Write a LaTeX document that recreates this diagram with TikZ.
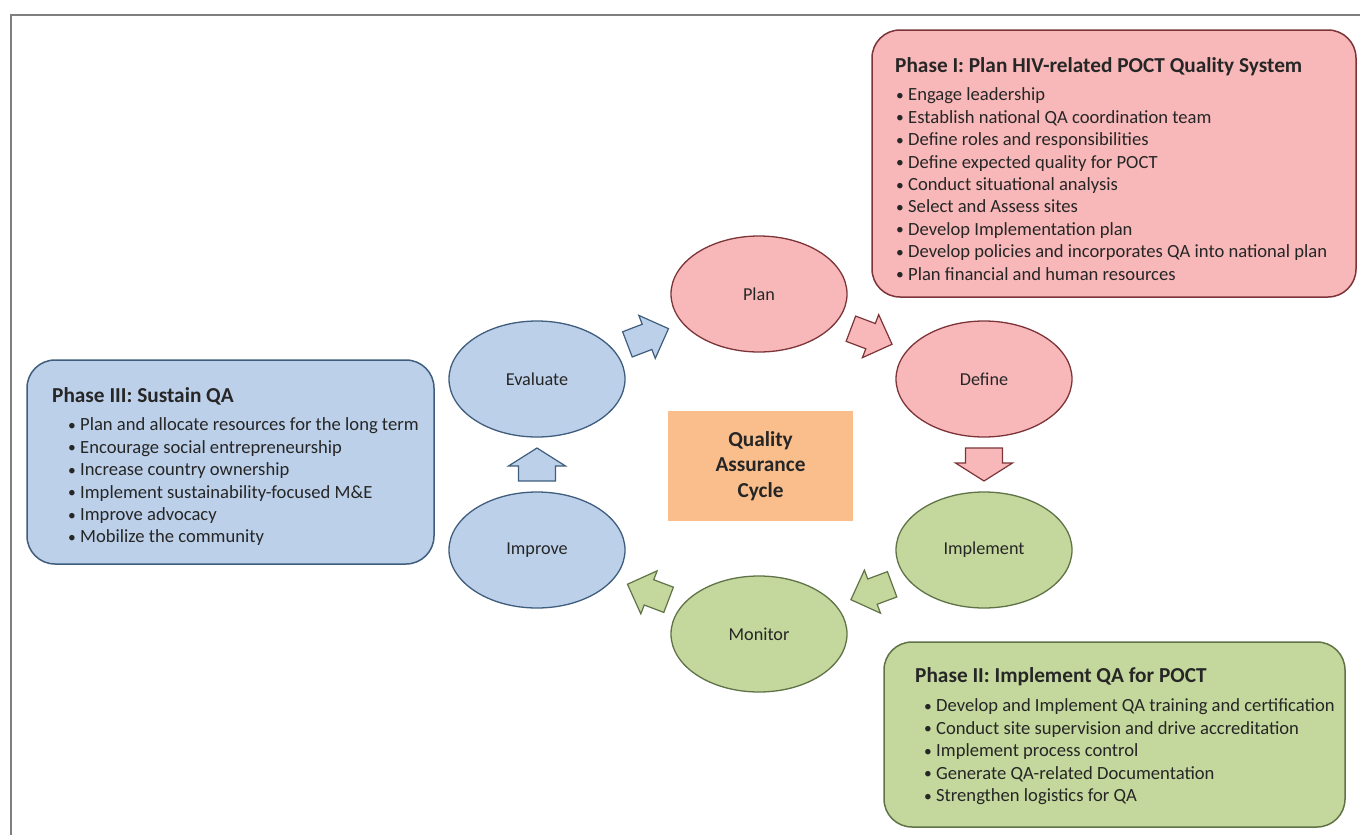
\documentclass[tikz,border=0pt]{standalone}
\usepackage{fontspec}
\setmainfont{Carlito}
\usetikzlibrary{shapes.geometric,decorations.markings}
\definecolor{pinkf}{HTML}{F8B8B9}
\definecolor{pinkd}{HTML}{7D3438}
\definecolor{bluef}{HTML}{BDD0EA}
\definecolor{blued}{HTML}{3F5D7D}
\definecolor{greenf}{HTML}{C4D79C}
\definecolor{greend}{HTML}{5F7347}
\definecolor{orangef}{HTML}{F9BE8C}
\definecolor{txt}{HTML}{262626}
\definecolor{framec}{HTML}{7F7F7F}
\newcommand{\qabullet}{\makebox[12pt][l]{\raisebox{0.3pt}{\fontsize{15.5}{16}\selectfont\textbullet}}}
\begin{document}
\begin{tikzpicture}[x=1pt,y=-1pt,
  every node/.style={text=txt},
  ell/.style={ellipse, minimum width=176pt, minimum height=116pt, inner sep=0pt, line width=1.3pt, font=\fontsize{18.2}{21}\selectfont},
  pinkst/.style={fill=pinkf, draw=pinkd},
  bluest/.style={fill=bluef, draw=blued},
  greenst/.style={fill=greenf, draw=greend},
  pinkarr/.style={fill=pinkf, draw=pinkd, line width=1.2pt, line join=miter},
  bluearr/.style={fill=bluef, draw=blued, line width=1.2pt, line join=miter},
  greenarr/.style={fill=greenf, draw=greend, line width=1.2pt, line join=miter},
  phasebox/.style={rounded corners=28pt, line width=1.5pt, inner sep=0pt},
  ptitle/.style={anchor=base west, inner sep=0pt, font=\bfseries\fontsize{21.3}{25}\selectfont},
  pitem/.style={anchor=base west, inner sep=0pt, font=\fontsize{18.6}{22}\selectfont},
  diagarrow/.style={postaction={decorate,decoration={markings,mark=at position 0.5 with {\draw[#1] (-22,-13.5) -- (-1,-13.5) -- (-1,-23) -- (22,0) -- (-1,23) -- (-1,13.5) -- (-22,13.5) -- cycle;}}}},
  vertarrow/.style={postaction={decorate,decoration={markings,mark=at position 0.5 with {\draw[#1] (-16.5,-18.5) -- (-1.5,-18.5) -- (-1.5,-28.5) -- (16.5,0) -- (-1.5,28.5) -- (-1.5,18.5) -- (-16.5,18.5) -- cycle;}}}},
]
\useasboundingbox (0,0) rectangle (1360,835);
\draw[framec, line width=1.5pt] (11,835) -- (11,15) -- (1360,15);

% phase boxes
\node[phasebox, fill=pinkf, draw=pinkd, minimum width=484pt, minimum height=267pt] (p1box) at (1114,163.5) {};
\node[phasebox, fill=bluef, draw=blued, minimum width=407pt, minimum height=204pt] (p3box) at (230.5,462) {};
\node[phasebox, fill=greenf, draw=greend, minimum width=461pt, minimum height=185pt] (p2box) at (1114.5,734.5) {};

\node[ptitle] (p1title) at (895,72) {Phase I: Plan HIV-related POCT Quality System};
\foreach \t [count=\i] in {Engage leadership, Establish national QA coordination team, Define roles and responsibilities, Define expected quality for POCT, Conduct situational analysis, Select and Assess sites, Develop Implementation plan, Develop policies and incorporates QA into national plan, Plan financial and human resources}
  \node[pitem] (p1l\i) at (896,{100.8+22.4*(\i-1)}) {\qabullet\t};

\node[ptitle] (p3title) at (52,402.2) {Phase III: Sustain QA};
\foreach \t [count=\i] in {Plan and allocate resources for the long term, Encourage social entrepreneurship, Increase country ownership, Implement sustainability-focused M\&E, Improve advocacy, Mobilize the community}
  \node[pitem] (p3l\i) at (68,{430.8+22.4*(\i-1)}) {\qabullet\t};

\node[ptitle] (p2title) at (915,682) {Phase II: Implement QA for POCT};
\foreach \t [count=\i] in {Develop and Implement QA training and certification, Conduct site supervision and drive accreditation, Implement process control, Generate QA-related Documentation, Strengthen logistics for QA}
  \node[pitem] (p2l\i) at (924,{711.8+22.4*(\i-1)}) {\qabullet\t};

% cycle
\node[ell, pinkst] (plan) at (759,294) {Plan};
\node[ell, pinkst] (define) at (984,379) {Define};
\node[ell, greenst] (implement) at (984,550) {Implement};
\node[ell, greenst] (monitor) at (759,634) {Monitor};
\node[ell, bluest] (improve) at (537,550) {Improve};
\node[ell, bluest] (evaluate) at (537,379) {Evaluate};

\node[fill=orangef, minimum width=185pt, minimum height=110pt, inner sep=0pt, align=center, font=\bfseries\fontsize{21.3}{25.3}\selectfont] (qa) at (760.5,466) {Quality\\Assurance\\Cycle};

\path[diagarrow=pinkarr] (plan) -- (define);
\path[vertarrow=pinkarr] (define) -- (implement);
\path[diagarrow=greenarr] (implement) -- (monitor);
\path[diagarrow=greenarr] (monitor) -- (improve);
\path[vertarrow=bluearr] (improve) -- (evaluate);
\path[diagarrow=bluearr] (evaluate) -- (plan);
\end{tikzpicture}
\end{document}
